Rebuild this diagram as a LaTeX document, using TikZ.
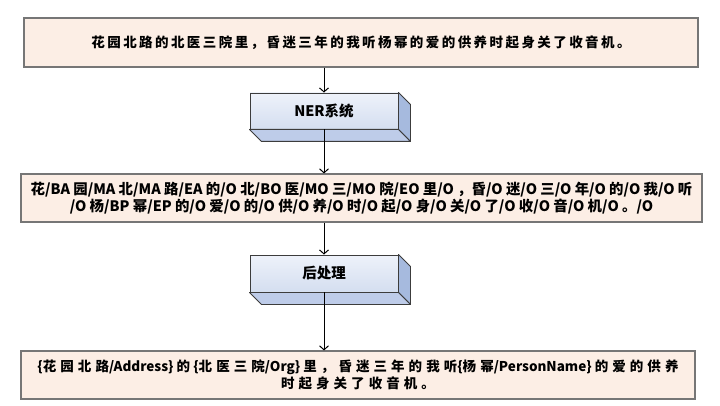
\documentclass[tikz,border=0pt]{standalone}
\usepackage{fontspec}
\setmainfont{Noto Sans CJK SC}
\newfontfamily\widecjk[LetterSpace=18]{Noto Sans CJK SC}
\newfontfamily\widercjk[LetterSpace=30]{Noto Sans CJK SC}
\usetikzlibrary{arrows.meta,positioning,calc}
\definecolor{panelfill}{RGB}{252,238,229}
\definecolor{panelline}{RGB}{118,118,118}
\definecolor{blocktop}{RGB}{238,242,250}
\definecolor{blockbot}{RGB}{212,222,240}
\definecolor{blockline}{RGB}{60,60,60}
\definecolor{sidefill}{RGB}{166,186,222}
\definecolor{basefill}{RGB}{190,204,233}
\newcommand{\wcj}[1]{{\widecjk\bfseries #1}}
\newcommand{\wwcj}[1]{{\widercjk\bfseries #1}}

\begin{document}
\begin{tikzpicture}[x=1pt,y=-1pt,
  panel/.style={draw=panelline, line width=1.1pt, fill=panelfill, minimum height=48pt, align=center, font=\bfseries\fontsize{13.5}{17}\selectfont},
  block/.style={draw=blockline, line width=0.9pt, top color=blocktop, bottom color=blockbot, minimum width=148pt, minimum height=36pt, font=\bfseries\fontsize{14.5}{17}\selectfont},
  face/.style={draw=blockline, line width=0.9pt, line join=round},
  arr/.style={-{Straight Barb[length=4pt,width=9pt]}, line width=1pt}
]
\useasboundingbox (0,0) rectangle (720,406);
\node[panel, minimum width=674pt, minimum height=49pt] (src) at (361,42.5) {\wcj{花园北路的北医三院里，昏迷三年的我听杨幂的爱的供养时起身关了收音机。}};
\node[block] (ner) at (324,111) {NER系统};
\node[panel, minimum width=681pt, font=\bfseries\fontsize{14.4}{16.5}\selectfont] (tags) at (361.5,198) {花/BA 园/MA 北/MA 路/EA 的/O 北/BO 医/MO 三/MO 院/EO 里/O ，昏/O 迷/O 三/O 年/O 的/O 我/O 听\\/O 杨/BP 幂/EP 的/O 爱/O 的/O 供/O 养/O 时/O 起/O 身/O 关/O 了/O 收/O 音/O 机/O 。/O};
\node[block, minimum height=37pt] (post) at (324,273.5) {后处理};
\node[panel, minimum width=674pt] (out) at (358,375) {\{\wwcj{花园北路}/Address\} \wwcj{的} \{\wwcj{北医三院}/Org\} \wwcj{里，昏迷三年的我听}\{\wwcj{杨幂}/PersonName\} \wwcj{的爱的供养}\\\wwcj{时起身关了收音机。}};
% extruded faces of the two blocks
\foreach \b in {ner,post} {
  \filldraw[face, fill=sidefill] (\b.north east) -- ($(\b.north east)+(12,12)$) -- ($(\b.south east)+(12,12)$) -- (\b.south east) -- cycle;
  \filldraw[face, fill=basefill] (\b.south west) -- (\b.south east) -- ($(\b.south east)+(12,12)$) -- ($(\b.south west)+(12,12)$) -- cycle;
}
\draw[arr] (ner |- src.south) -- (ner.north);
\draw[arr] (ner.south) -- (ner |- tags.north);
\draw[arr] (post |- tags.south) -- (post.north);
\draw[arr] (post.south) -- (post |- out.north);
\end{tikzpicture}
\end{document}
